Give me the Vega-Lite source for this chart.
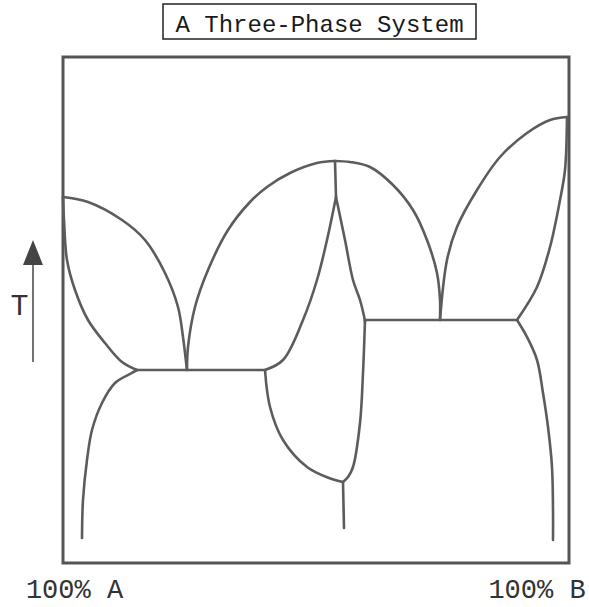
{
  "$schema": "https://vega.github.io/schema/vega-lite/v6.json",
  "width": 506,
  "height": 506,
  "autosize": {"type": "none"},
  "padding": {"left": 63, "top": 57, "right": 20, "bottom": 44},
  "background": "white",
  "config": {"view": {"stroke": "#555555", "strokeWidth": 3}},
  "layer": [
    {
      "data": {"values": [
        {"c":"Aliq","i":0,"x":0,"T":366},{"c":"Aliq","i":1,"x":25,"T":361},{"c":"Aliq","i":2,"x":59,"T":343},{"c":"Aliq","i":3,"x":82,"T":323},{"c":"Aliq","i":4,"x":102,"T":290},{"c":"Aliq","i":5,"x":115,"T":256},{"c":"Aliq","i":6,"x":120,"T":226},{"c":"Aliq","i":7,"x":122,"T":210},{"c":"Aliq","i":8,"x":124,"T":193},
        {"c":"Asol","i":0,"x":0,"T":366},{"c":"Asol","i":1,"x":1,"T":343},{"c":"Asol","i":2,"x":4,"T":303},{"c":"Asol","i":3,"x":12,"T":273},{"c":"Asol","i":4,"x":25,"T":243},{"c":"Asol","i":5,"x":42,"T":220},{"c":"Asol","i":6,"x":59,"T":201},{"c":"Asol","i":7,"x":74,"T":193},
        {"c":"Asolv","i":0,"x":74,"T":193},{"c":"Asolv","i":1,"x":67,"T":189},{"c":"Asolv","i":2,"x":52,"T":180},{"c":"Asolv","i":3,"x":39,"T":160},{"c":"Asolv","i":4,"x":29,"T":133},{"c":"Asolv","i":5,"x":24,"T":103},{"c":"Asolv","i":6,"x":20,"T":63},{"c":"Asolv","i":7,"x":19,"T":25},
        {"c":"Eut1","i":0,"x":74,"T":193},{"c":"Eut1","i":1,"x":202,"T":193},
        {"c":"CliqL","i":0,"x":124,"T":193},{"c":"CliqL","i":1,"x":125,"T":216},{"c":"CliqL","i":2,"x":132,"T":256},{"c":"CliqL","i":3,"x":145,"T":293},{"c":"CliqL","i":4,"x":165,"T":333},{"c":"CliqL","i":5,"x":187,"T":361},{"c":"CliqL","i":6,"x":204,"T":376},{"c":"CliqL","i":7,"x":227,"T":390},{"c":"CliqL","i":8,"x":254,"T":400},{"c":"CliqL","i":9,"x":272,"T":402},
        {"c":"CliqR","i":0,"x":272,"T":402},{"c":"CliqR","i":1,"x":287,"T":401},{"c":"CliqR","i":2,"x":307,"T":396},{"c":"CliqR","i":3,"x":330,"T":378},{"c":"CliqR","i":4,"x":350,"T":353},{"c":"CliqR","i":5,"x":364,"T":323},{"c":"CliqR","i":6,"x":374,"T":290},{"c":"CliqR","i":7,"x":377,"T":263},{"c":"CliqR","i":8,"x":377,"T":243},
        {"c":"Cvert","i":0,"x":272,"T":402},{"c":"Cvert","i":1,"x":273,"T":366},
        {"c":"LensL","i":0,"x":273,"T":366},{"c":"LensL","i":1,"x":264,"T":323},{"c":"LensL","i":2,"x":254,"T":283},{"c":"LensL","i":3,"x":240,"T":243},{"c":"LensL","i":4,"x":220,"T":203},{"c":"LensL","i":5,"x":202,"T":193},
        {"c":"LensR","i":0,"x":273,"T":366},{"c":"LensR","i":1,"x":282,"T":323},{"c":"LensR","i":2,"x":290,"T":283},{"c":"LensR","i":3,"x":297,"T":263},{"c":"LensR","i":4,"x":301,"T":247},{"c":"LensR","i":5,"x":302,"T":241},
        {"c":"Eut2","i":0,"x":302,"T":243},{"c":"Eut2","i":1,"x":454,"T":243},
        {"c":"LowL","i":0,"x":202,"T":193},{"c":"LowL","i":1,"x":207,"T":156},{"c":"LowL","i":2,"x":220,"T":123},{"c":"LowL","i":3,"x":244,"T":96},{"c":"LowL","i":4,"x":266,"T":85},{"c":"LowL","i":5,"x":280,"T":81},
        {"c":"LowR","i":0,"x":302,"T":243},{"c":"LowR","i":1,"x":300,"T":190},{"c":"LowR","i":2,"x":297,"T":140},{"c":"LowR","i":3,"x":290,"T":96},{"c":"LowR","i":4,"x":285,"T":86},{"c":"LowR","i":5,"x":280,"T":81},
        {"c":"Stem","i":0,"x":280,"T":81},{"c":"Stem","i":1,"x":281,"T":35},
        {"c":"Bliq","i":0,"x":377,"T":243},{"c":"Bliq","i":1,"x":384,"T":303},{"c":"Bliq","i":2,"x":394,"T":336},{"c":"Bliq","i":3,"x":414,"T":373},{"c":"Bliq","i":4,"x":437,"T":406},{"c":"Bliq","i":5,"x":464,"T":430},{"c":"Bliq","i":6,"x":487,"T":443},{"c":"Bliq","i":7,"x":504,"T":446},
        {"c":"Bsol","i":0,"x":504,"T":446},{"c":"Bsol","i":1,"x":502,"T":393},{"c":"Bsol","i":2,"x":497,"T":363},{"c":"Bsol","i":3,"x":487,"T":316},{"c":"Bsol","i":4,"x":474,"T":276},{"c":"Bsol","i":5,"x":454,"T":243},
        {"c":"Bsolv","i":0,"x":454,"T":243},{"c":"Bsolv","i":1,"x":464,"T":226},{"c":"Bsolv","i":2,"x":474,"T":203},{"c":"Bsolv","i":3,"x":480,"T":170},{"c":"Bsolv","i":4,"x":485,"T":136},{"c":"Bsolv","i":5,"x":489,"T":96},{"c":"Bsolv","i":6,"x":490,"T":53},{"c":"Bsolv","i":7,"x":490,"T":23}
      ]},
      "mark": {"type": "line", "interpolate": "catmull-rom", "color": "#5c5c5c", "strokeWidth": 2.6, "strokeCap": "round", "strokeJoin": "round"},
      "encoding": {
        "x": {"field": "x", "type": "quantitative", "scale": {"domain": [0, 506], "nice": false, "zero": false},
              "axis": {"title": null, "values": [11, 473.5], "labelExpr": "datum.value < 200 ? '100% A' : '100% B'", "labelFont": "Liberation Mono", "labelFontSize": 27, "labelColor": "#333333", "ticks": false, "domain": false, "grid": false, "labelPadding": 13, "labelOverlap": false, "labelBound": false, "labelFlush": false}},
        "y": {"field": "T", "type": "quantitative", "scale": {"domain": [0, 506], "nice": false, "zero": false},
              "axis": {"title": "T", "titleAngle": 0, "titleFont": "Liberation Mono", "titleFontSize": 30, "titleFontWeight": "normal", "titleColor": "#333333", "titleX": -44, "titleY": 248, "titleAlign": "center", "titleBaseline": "middle", "labels": false, "ticks": false, "domain": false, "grid": false}},
        "detail": {"field": "c"},
        "order": {"field": "i", "type": "quantitative"}
      }
    },
    {
      "data": {"values": [{}]},
      "mark": {"type": "rect", "filled": false, "stroke": "#222222", "strokeWidth": 1.5},
      "encoding": {
        "x": {"datum": 100}, "x2": {"datum": 413},
        "y": {"datum": 524}, "y2": {"datum": 559}
      }
    },
    {
      "data": {"values": [{}]},
      "mark": {"type": "text", "text": "A Three-Phase System", "font": "Liberation Mono", "fontSize": 24, "color": "#1a1a1a", "align": "center", "baseline": "alphabetic"},
      "encoding": {
        "x": {"datum": 256.5},
        "y": {"datum": 531}
      }
    },
    {
      "data": {"values": [{}]},
      "mark": {"type": "rule", "color": "#444444", "strokeWidth": 1.5},
      "encoding": {
        "x": {"datum": -30},
        "y": {"datum": 201}, "y2": {"datum": 302}
      }
    },
    {
      "data": {"values": [{}]},
      "mark": {"type": "point", "shape": "M-1,1.25L0,-1.25L1,1.25Z", "filled": true, "color": "#444444", "size": 400, "opacity": 1},
      "encoding": {
        "x": {"datum": -30},
        "y": {"datum": 310.5}
      }
    }
  ]
}
